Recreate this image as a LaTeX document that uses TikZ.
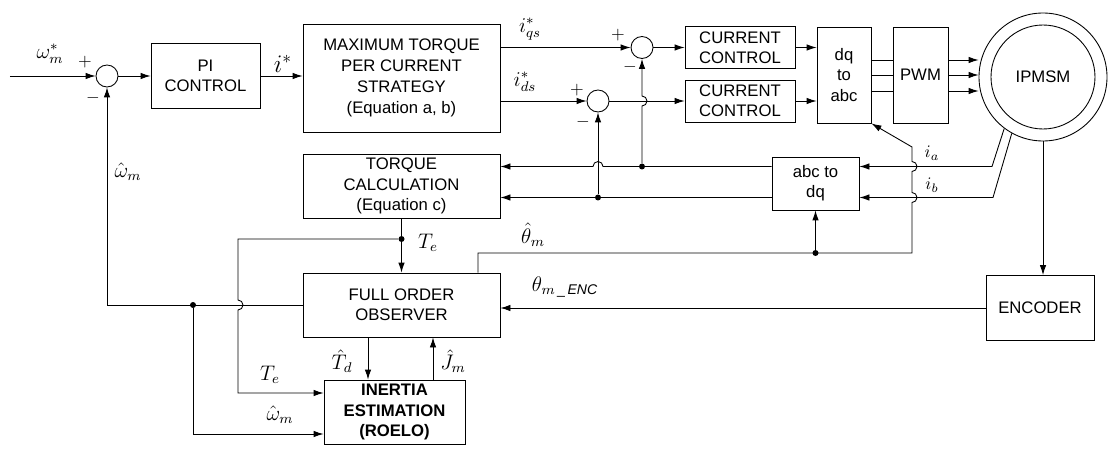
\documentclass[tikz,border=0pt]{standalone}
\usepackage{fontspec}
\setmainfont{Liberation Sans}
\usepackage{amsmath}
\usetikzlibrary{arrows.meta,positioning}

\begin{document}
\begin{tikzpicture}[
  line width=0.5pt,
  blk/.style={draw, align=center, font=\fontsize{9.5}{11.5}\selectfont, inner sep=1pt},
  sumc/.style={draw, circle, minimum size=4.4mm, inner sep=0pt},
  arr/.style={-{Latex[length=2mm,width=1.3mm]}},
  jdot/.style={circle, fill, inner sep=0pt, minimum size=1.2mm},
  lbl/.style={inner sep=0pt},
  sgn/.style={inner sep=0pt}]
\useasboundingbox (0,0) rectangle (22.16,-8.98);
% speed loop
\coordinate (in) at (0.2,-1.52);
\node[sumc] (s1) at (2.14,-1.52) {};
\node[blk, minimum width=2.18cm, minimum height=1.30cm] (pi) at (4.11,-1.52) {PI\\CONTROL};
\node[blk, minimum width=3.94cm, minimum height=2.16cm, font=\fontsize{9.5}{12}\selectfont] (mtpa) at (8.03,-1.56) {MAXIMUM TORQUE\\PER CURRENT\\STRATEGY\\(Equation a, b)};
% current loops
\node[sumc] (s2) at (12.84,-0.95) {};
\node[sumc] (s3) at (11.96,-2.02) {};
\node[blk, minimum width=2.2cm, minimum height=0.84cm] (cc1) at (14.80,-0.95) {CURRENT\\CONTROL};
\node[blk, minimum width=2.2cm, minimum height=0.84cm] (cc2) at (14.80,-2.02) {CURRENT\\CONTROL};
\node[blk, minimum width=1.08cm, minimum height=1.92cm] (dqabc) at (16.88,-1.50) {dq\\to\\abc};
\node[blk, minimum width=1.10cm, minimum height=1.92cm] (pwm) at (18.41,-1.50) {PWM};
\node[draw, circle, minimum size=2.56cm] (ipm) at (20.86,-1.54) {};
\node[draw, circle, minimum size=2.08cm, font=\fontsize{9.5}{11.5}\selectfont] (ipmin) at (ipm.center) {IPMSM};
% lower blocks
\node[blk, minimum width=3.94cm, minimum height=1.28cm] (tc) at (8.03,-3.72) {TORQUE\\CALCULATION\\(Equation c)};
\node[blk, minimum width=1.74cm, minimum height=1.06cm] (abcdq) at (16.31,-3.67) {abc to\\dq};
\node[blk, minimum width=3.94cm, minimum height=1.28cm] (fo) at (8.03,-6.10) {FULL ORDER\\OBSERVER};
\node[blk, minimum width=2.16cm, minimum height=1.30cm] (enc) at (20.80,-6.16) {ENCODER};
\node[blk, minimum width=2.82cm, minimum height=1.28cm, font=\fontsize{9.5}{11.5}\selectfont\bfseries] (ie) at (7.89,-8.24) {INERTIA\\ESTIMATION\\(ROELO)};
% junction dots
\node[jdot] (dq) at (12.84,-3.33) {};
\node[jdot] (dd) at (11.96,-3.95) {};
\node[jdot] (dte) at (8.03,-4.78) {};
\node[jdot] (dth) at (16.31,-5.06) {};
\node[jdot] (dw) at (3.86,-6.10) {};
% forward path
\draw[arr] (in) -- (s1.west);
\draw[arr] (s1) -- (pi);
\draw[arr] (pi.east) -- (pi.east -| mtpa.west);
\draw[arr] (mtpa.east |- s2) -- (s2.west);
\draw[arr] (mtpa.east |- s3) -- (s3.west);
\draw[arr] (s2) -- (cc1);
\draw[arr] (s3.east) -- (cc2.west);
\draw[arr] (cc1.east) -- (cc1.east -| dqabc.west);
\draw[arr] (cc2.east) -- (cc2.east -| dqabc.west);
\foreach \y in {-1.20,-1.50,-1.82} {
  \draw (dqabc.east |- 0,\y) -- (pwm.west |- 0,\y);
  \draw[arr] (pwm.east |- 0,\y) -- (ipm.west |- 0,\y);
}
% current feedback
\draw[arr] (ipm.233) -- (19.84,-3.33) -- (abcdq.east |- dq);
\draw[arr] (ipm.241) -- (19.86,-3.95) -- (abcdq.east |- dd);
\draw[arr] (abcdq.west |- dq) -- (12.06,-3.33) arc[start angle=0, end angle=180, radius=0.1] -- (tc.east |- dq);
\draw[arr] (abcdq.west |- dd) -- (tc.east |- dd);
\draw[arr] (dq) -- (12.84,-2.12) arc[start angle=-90, end angle=90, radius=0.1] -- (s2.south);
\draw[arr] (dd) -- (s3.south);
% position / speed estimates
\draw[arr] (9.56,0 |- fo.north) -- (9.56,-5.06) -- (18.24,-5.06) -- (18.24,-4.05) arc[start angle=-90, end angle=90, radius=0.1]
  -- (18.24,-3.43) arc[start angle=-90, end angle=90, radius=0.1] -- (18.24,-2.94) -- (dqabc.south east);
\draw[arr] (dth) -- (abcdq.south);
\draw[arr] (tc.south) -- (fo.north);
\draw[arr] (dte) -- (4.76,-4.78) -- (4.76,-6.00) arc[start angle=90, end angle=-90, radius=0.1] -- (4.76,-7.86) -- (ie.west |- 0,-7.86);
\draw[arr] (fo.west) -- (2.14,-6.10) -- (s1.south);
\draw[arr] (dw) -- (3.86,-8.68) -- (ie.west |- 0,-8.68);
\draw[arr] (7.36,0 |- fo.south) -- (7.36,0 |- ie.north);
\draw[arr] (8.66,0 |- ie.north) -- (8.66,0 |- fo.south);
\draw[arr] (ipm.south) -- (ipm.south |- enc.north);
\draw[arr] (enc.west) -- (enc.west -| fo.east);
% labels
\node[lbl, font=\large] (lwref) at (1.0,-1.08) {$\omega_m^{*}$};
\node[sgn] (p1) at (1.70,-1.24) {$+$};
\node[sgn] (m1) at (1.86,-1.96) {$-$};
\node[lbl, font=\Large] (listar) at (5.66,-1.28) {$i^{*}$};
\node[lbl, font=\large] (liqs) at (10.6,-0.58) {$i_{qs}^{*}$};
\node[lbl, font=\large] (lids) at (10.5,-1.64) {$i_{ds}^{*}$};
\node[sgn] (p2) at (12.36,-0.70) {$+$};
\node[sgn] (m2) at (12.60,-1.34) {$-$};
\node[sgn] (p3) at (11.54,-1.80) {$+$};
\node[sgn] (m3) at (11.66,-2.44) {$-$};
\node[lbl, font=\large] (lwhat) at (2.56,-3.44) {$\hat{\omega}_m$};
\node[lbl, font=\large] (lte) at (8.56,-4.86) {$T_e$};
\node[lbl, font=\large] (lth) at (10.66,-4.70) {$\hat{\theta}_m$};
\node[lbl, font=\large] (lthenc) at (11.3,-5.74) {$\theta_{m\,\_\,\mathit{ENC}}$};
\node[lbl] (lia) at (18.64,-3.06) {$i_a$};
\node[lbl] (lib) at (18.64,-3.70) {$i_b$};
\node[lbl, font=\large] (lte2) at (5.40,-7.50) {$T_e$};
\node[lbl, font=\large] (lwhat2) at (5.60,-8.30) {$\hat{\omega}_m$};
\node[lbl, font=\large] (ltd) at (6.84,-7.22) {$\hat{T}_d$};
\node[lbl, font=\large] (ljm) at (9.06,-7.22) {$\hat{J}_m$};
\end{tikzpicture}
\end{document}
